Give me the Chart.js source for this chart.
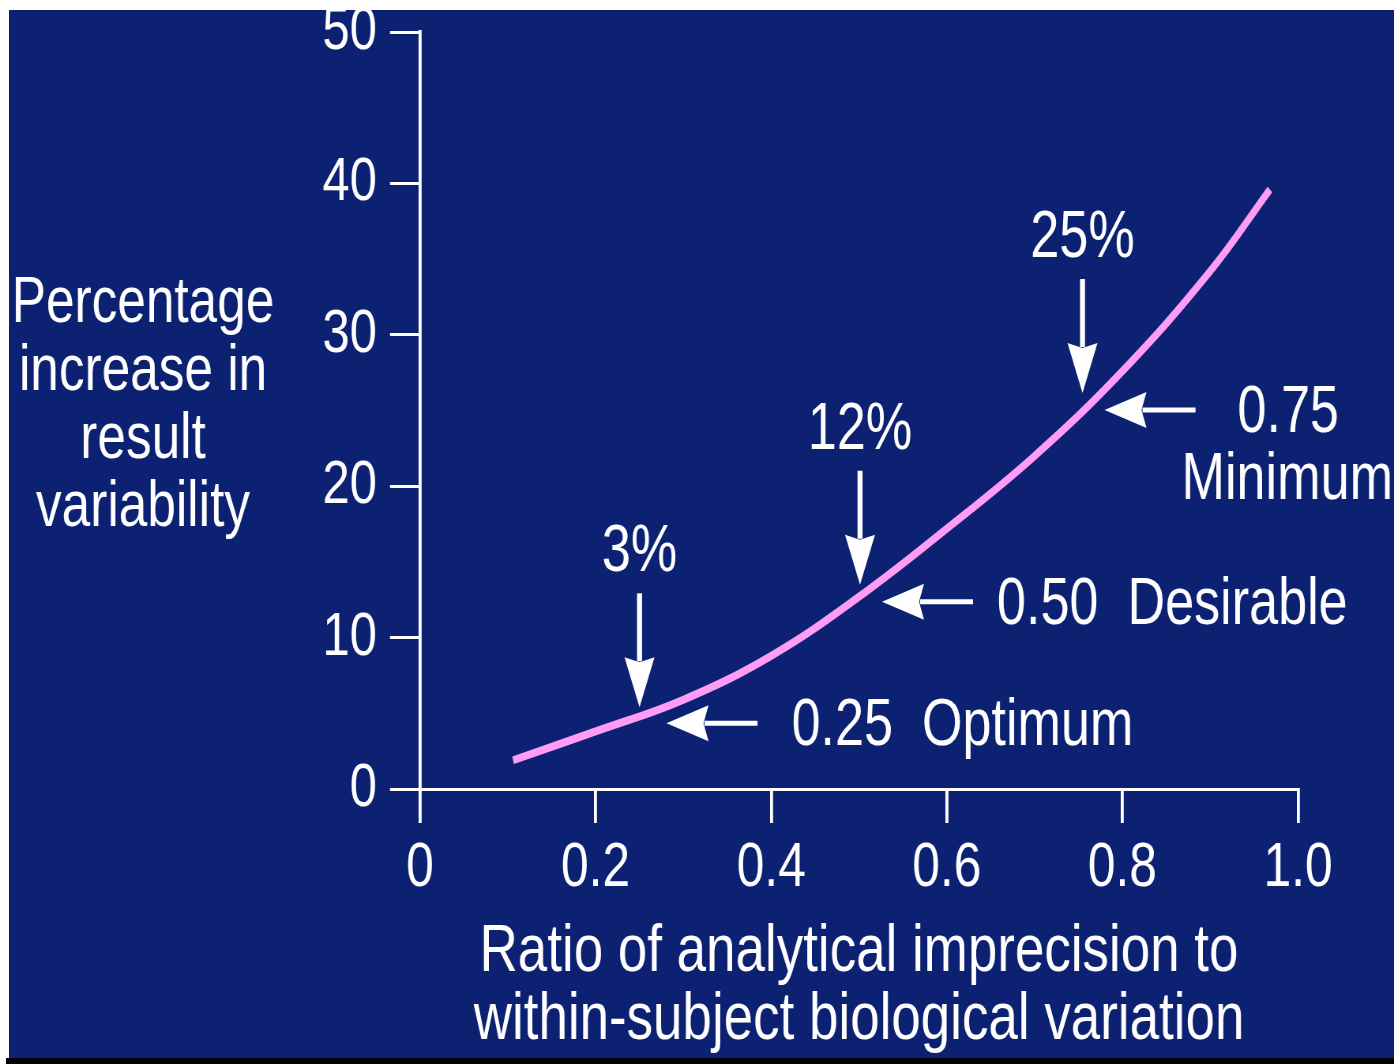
<!DOCTYPE html>
<html>
<head>
<meta charset="utf-8">
<script src="https://cdn.jsdelivr.net/npm/chart.js@4.4.1/dist/chart.umd.min.js"></script>
<style>
  body { margin: 0; background: #fff; overflow: hidden; }
  #bg { position: absolute; left: 9px; top: 10px; width: 1385px; height: 1048px; background: #0d2173; }
  #edge { position: absolute; left: 6px; top: 1058px; width: 1388px; height: 6px; background: #000; }
  /* canvas is drawn wider and squeezed, so the text comes out narrow like the original */
  #chart { position: absolute; left: 0; top: 0; transform-origin: 0 0; }
</style>
</head>
<body>
<div id="bg"></div>
<div id="edge"></div>
<canvas id="chart"></canvas>
<script>
const FONT = '"Liberation Sans", Arial, sans-serif';
const CW = 1765, CH = 1064;
const SX = 1394 / CW; // horizontal squeeze

// curve
const ratio = [0.106, 0.2, 0.3, 0.4, 0.5, 0.6, 0.7, 0.8, 0.9, 0.968];
const increase = [1.9, 3.8, 5.9, 8.8, 12.7, 17.2, 22.0, 27.6, 34.2, 39.6];

// marked points
const markRatio = [0.25, 0.5, 0.75];
const markValue = [4.8, 12.7, 24.7];
const markPct = ["3%", "12%", "25%"];
const markLabel = ["0.25  Optimum", "0.50  Desirable", "0.75"];

const yTitle = ["Percentage", "increase in", "result", "variability"];
const xTitle = ["Ratio of analytical imprecision to", "within-subject biological variation"];

const canvas = document.getElementById("chart");
canvas.width = CW;
canvas.height = CH;
canvas.style.width = CW + "px";
canvas.style.height = CH + "px";
canvas.style.transform = "scaleX(" + SX + ")";

function downArrow(ctx, x, tip, len) {
  const head = 50, half = 15 / SX;
  ctx.lineWidth = 5 / SX;
  ctx.beginPath();
  ctx.moveTo(x, tip - len);
  ctx.lineTo(x, tip - head + 4);
  ctx.stroke();
  ctx.beginPath();
  ctx.moveTo(x, tip);
  ctx.lineTo(x - half, tip - head);
  ctx.lineTo(x, tip - head + 5);
  ctx.lineTo(x + half, tip - head);
  ctx.closePath();
  ctx.fill();
}

function leftArrow(ctx, tip, y, len) {
  const head = 42 / SX, half = 18;
  ctx.lineWidth = 5;
  ctx.beginPath();
  ctx.moveTo(tip + len, y);
  ctx.lineTo(tip + head - 4 / SX, y);
  ctx.stroke();
  ctx.beginPath();
  ctx.moveTo(tip, y);
  ctx.lineTo(tip + head, y - half);
  ctx.lineTo(tip + head - 5 / SX, y);
  ctx.lineTo(tip + head, y + half);
  ctx.closePath();
  ctx.fill();
}

// small nudges (screen px) of each note relative to its point on the curve
const NUDGE = [
  { vx: 0, vy: -9, hx: 27, hy: 7, lx: 125 },
  { vx: 1, vy: -12, hx: 23, hy: 5, lx: 115 },
  { vx: 4, vy: -22, hx: 26, hy: -5, lx: 133 },
];

const notes = {
  id: "notes",
  afterDraw(chart) {
    const ctx = chart.ctx;
    const xs = chart.scales.x, ys = chart.scales.y;
    ctx.save();
    ctx.fillStyle = "#fff";
    ctx.strokeStyle = "#fff";
    ctx.textBaseline = "alphabetic";

    // y title, horizontal lines left of the axis
    ctx.font = "65px " + FONT;
    ctx.textAlign = "center";
    yTitle.forEach((t, i) => ctx.fillText(t, 143 / SX, 322 + i * 68));

    ctx.font = "66px " + FONT;
    markRatio.forEach((r, i) => {
      const n = NUDGE[i];
      const px = xs.getPixelForValue(r);
      const py = ys.getPixelForValue(markValue[i]);
      // down arrow with percentage
      const vx = px + n.vx / SX, vTip = py + n.vy;
      downArrow(ctx, vx, vTip, 114);
      ctx.textAlign = "center";
      ctx.fillText(markPct[i], vx, vTip - 136);
      // left arrow with label
      const hTip = px + n.hx / SX, hy = py + n.hy;
      leftArrow(ctx, hTip, hy, 91 / SX);
      ctx.textAlign = "left";
      ctx.fillText(markLabel[i], hTip + n.lx / SX, hy + 22);
      if (i === 2) ctx.fillText("Minimum", hTip + (n.lx - 56) / SX, hy + 89);
    });
    ctx.restore();
  }
};

new Chart(canvas, {
  type: "line",
  data: {
    datasets: [
      {
        data: ratio.map((r, i) => ({ x: r, y: increase[i] })),
        borderColor: "#ff9cf6",
        borderWidth: 8,
        pointRadius: 0,
        tension: 0.4,
        fill: false,
      },
    ],
  },
  options: {
    responsive: false,
    animation: false,
    devicePixelRatio: 1,
    layout: { padding: { left: 0, top: 32, right: 96 / SX, bottom: 0 } },
    plugins: { legend: { display: false }, tooltip: { enabled: false } },
    scales: {
      x: {
        type: "linear",
        min: 0,
        max: 1,
        afterFit: (s) => { s.height = 275; },
        ticks: {
          stepSize: 0.2,
          color: "#fff",
          padding: 14,
          font: { family: FONT, size: 63, lineHeight: 1 },
          callback: (v) => (v === 0 ? "0" : v.toFixed(1)),
        },
        grid: { drawOnChartArea: false, drawTicks: true, tickLength: 34, color: "#fff", lineWidth: 3 / SX },
        border: { display: true, color: "#fff", width: 3 },
        title: {
          display: true,
          text: xTitle,
          color: "#fff",
          font: { family: FONT, size: 67, lineHeight: 68 / 67 },
          padding: { top: 0, bottom: 9 },
        },
      },
      y: {
        min: 0,
        max: 50,
        afterFit: (s) => { s.width = 420 / SX; },
        ticks: {
          stepSize: 10,
          color: "#fff",
          padding: 13 / SX,
          font: { family: FONT, size: 62, lineHeight: 0.5 },
        },
        grid: { drawOnChartArea: false, drawTicks: true, tickLength: 30 / SX, color: "#fff", lineWidth: 3 },
        border: { display: true, color: "#fff", width: 3 / SX },
      },
    },
  },
  plugins: [notes],
});
</script>
</body>
</html>
